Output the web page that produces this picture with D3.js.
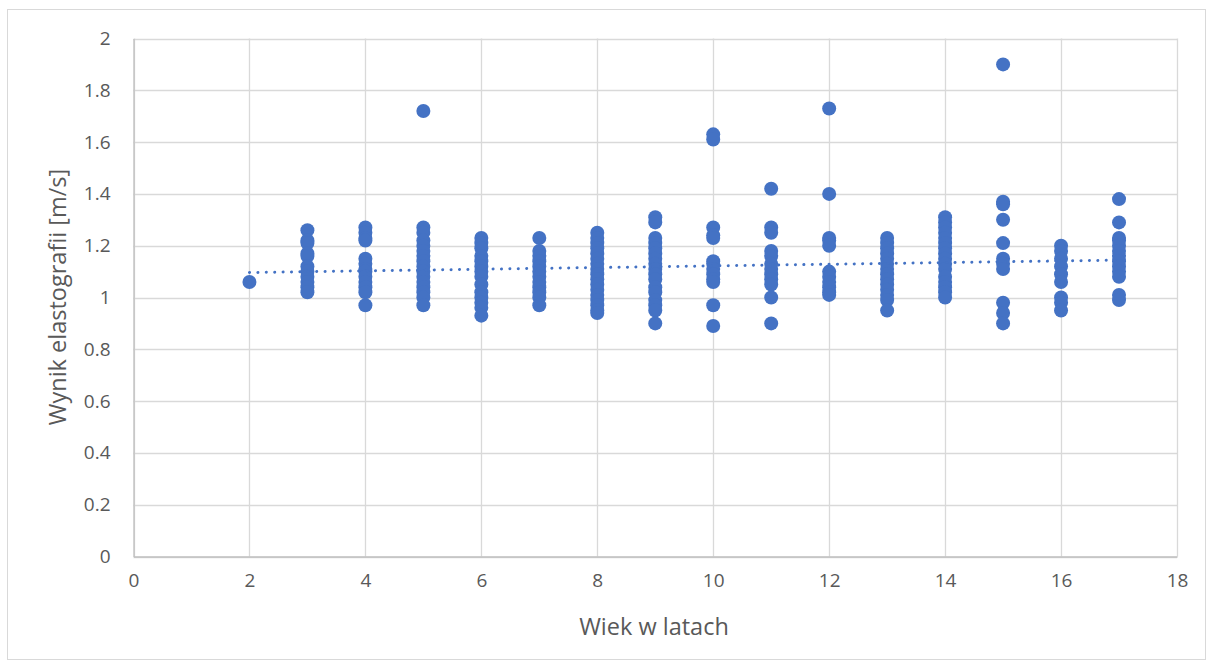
<!DOCTYPE html>
<html>
<head>
<meta charset="utf-8">
<script src="https://cdn.jsdelivr.net/npm/d3@7"></script>
<style>
  html, body { margin: 0; padding: 0; background: #fff; }
  svg text { font-family: "Open Sans", "Liberation Sans", sans-serif; fill: #595959; }
</style>
</head>
<body>
<svg id="chart" width="1213" height="668"></svg>
<script>
// Age (years) and elastography results (m/s), one array per age group
const ages = [2, 3, 4, 5, 6, 7, 8, 9, 10, 11, 12, 13, 14, 15, 16, 17];
const results = [
  [1.06],
  [1.26, 1.22, 1.21, 1.17, 1.16, 1.12, 1.10, 1.08, 1.06, 1.04, 1.02],
  [1.27, 1.25, 1.23, 1.22, 1.15, 1.13, 1.11, 1.10, 1.08, 1.06, 1.04, 1.02, 0.97],
  [1.72, 1.27, 1.25, 1.22, 1.20, 1.18, 1.16, 1.14, 1.12, 1.10, 1.08, 1.06, 1.04, 1.02, 1.00, 0.97],
  [1.23, 1.21, 1.19, 1.16, 1.14, 1.12, 1.10, 1.08, 1.05, 1.02, 1.00, 0.98, 0.96, 0.93],
  [1.23, 1.18, 1.16, 1.14, 1.12, 1.10, 1.08, 1.06, 1.04, 1.02, 1.00, 0.97],
  [1.25, 1.23, 1.21, 1.19, 1.17, 1.15, 1.13, 1.11, 1.09, 1.07, 1.05, 1.03, 1.01, 0.99, 0.97, 0.95, 0.94],
  [1.31, 1.29, 1.23, 1.21, 1.19, 1.17, 1.15, 1.13, 1.11, 1.09, 1.07, 1.04, 1.02, 0.99, 0.97, 0.95, 0.90],
  [1.63, 1.61, 1.27, 1.24, 1.23, 1.14, 1.13, 1.11, 1.09, 1.07, 1.06, 0.97, 0.89],
  [1.42, 1.27, 1.25, 1.18, 1.16, 1.13, 1.11, 1.09, 1.07, 1.05, 1.00, 0.90],
  [1.73, 1.40, 1.23, 1.22, 1.20, 1.10, 1.08, 1.06, 1.04, 1.02, 1.01],
  [1.23, 1.21, 1.19, 1.17, 1.15, 1.13, 1.11, 1.09, 1.07, 1.05, 1.03, 1.01, 0.99, 0.95],
  [1.31, 1.29, 1.27, 1.25, 1.23, 1.21, 1.19, 1.17, 1.15, 1.13, 1.11, 1.08, 1.06, 1.04, 1.02, 1.00],
  [1.90, 1.37, 1.36, 1.30, 1.21, 1.15, 1.13, 1.11, 0.98, 0.94, 0.90],
  [1.20, 1.18, 1.15, 1.12, 1.09, 1.06, 1.00, 0.98, 0.95],
  [1.38, 1.29, 1.23, 1.22, 1.20, 1.18, 1.16, 1.14, 1.12, 1.10, 1.08, 1.01, 0.99]
];
// linear trend: value = intercept + slope * age
const trendIntercept = 1.090;
const trendSlope = 0.0032;
const xTicks = [0, 2, 4, 6, 8, 10, 12, 14, 16, 18];
const yTicks = [0, 0.2, 0.4, 0.6, 0.8, 1, 1.2, 1.4, 1.6, 1.8, 2];
const xTitle = "Wiek w latach";
const yTitle = "Wynik elastografii [m/s]";

const points = ages.flatMap((a, i) => results[i].map(v => ({ age: a, value: v })));

const svg = d3.select("#chart");
const plot = { left: 133.5, right: 1177, top: 38.5, bottom: 556.5 };

// outer chart frame
svg.append("rect")
  .attr("x", 7.5).attr("y", 9.5).attr("width", 1198).attr("height", 650)
  .attr("fill", "#fff").attr("stroke", "#d9d9d9").attr("stroke-width", 1);

const x = d3.scaleLinear().domain([0, 18]).range([plot.left, plot.right]);
const y = d3.scaleLinear().domain([0, 2]).range([plot.bottom, plot.top]);

// gridlines
const grid = svg.append("g");
grid.selectAll("line.h").data(yTicks).join("line")
  .attr("x1", plot.left).attr("x2", plot.right)
  .attr("y1", d => Math.round(y(d)) + 0.5).attr("y2", d => Math.round(y(d)) + 0.5)
  .attr("stroke", "#d9d9d9").attr("stroke-width", 1.3);
grid.selectAll("line.v").data(xTicks).join("line")
  .attr("y1", plot.top).attr("y2", plot.bottom)
  .attr("x1", d => Math.round(x(d)) + 0.5).attr("x2", d => Math.round(x(d)) + 0.5)
  .attr("stroke", "#d9d9d9").attr("stroke-width", 1.3);

// axes (labels only, styled like the gridlines)
const xAxis = svg.append("g").attr("transform", `translate(0,${plot.bottom})`)
  .call(d3.axisBottom(x).tickValues(xTicks).tickSize(0).tickPadding(17).tickFormat(d3.format("d")));
xAxis.select(".domain").attr("stroke", "#bfbfbf").attr("stroke-width", 1.3);
xAxis.selectAll("text").attr("font-size", 19).style("fill", "#595959");

const yAxis = svg.append("g").attr("transform", `translate(${plot.left},0)`)
  .call(d3.axisLeft(y).tickValues(yTicks).tickSize(0).tickPadding(23).tickFormat(d => String(+d.toFixed(1))));
yAxis.select(".domain").attr("stroke", "#bfbfbf").attr("stroke-width", 1.3);
yAxis.selectAll("text").attr("font-size", 19).style("fill", "#595959");

// axis titles
svg.append("text").attr("x", 654).attr("y", 635)
  .attr("text-anchor", "middle").attr("font-size", 23.5).text(xTitle);
svg.append("text").attr("transform", `translate(66,297) rotate(-90)`)
  .attr("text-anchor", "middle").attr("font-size", 23.5).text(yTitle);

// data points
svg.append("g").selectAll("circle").data(points).join("circle")
  .attr("cx", d => x(d.age)).attr("cy", d => y(d.value))
  .attr("r", 7).attr("fill", "#4472c4");

// dotted linear trend line across the observed age range
const xMin = d3.min(ages), xMax = d3.max(ages);
svg.append("line")
  .attr("x1", x(xMin)).attr("y1", y(trendIntercept + trendSlope * xMin))
  .attr("x2", x(xMax)).attr("y2", y(trendIntercept + trendSlope * xMax))
  .attr("stroke", "#4472c4").attr("stroke-width", 3)
  .attr("stroke-linecap", "round").attr("stroke-dasharray", "0.1 8.3");
</script>
</body>
</html>
